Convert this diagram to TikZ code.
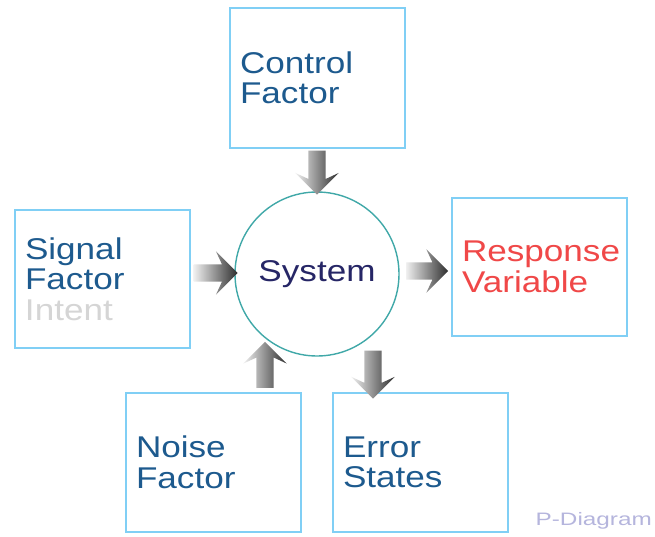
\documentclass[tikz,border=0pt]{standalone}
\usepackage{fontspec}
\setmainfont{Liberation Sans}
\newfontfamily\pfont[FakeStretch=1.17]{Liberation Sans}
\newfontfamily\tagfont[FakeStretch=1.35]{Liberation Sans}
\usetikzlibrary{calc}
\usetikzlibrary{shapes.arrows}

\definecolor{boxblue}{HTML}{80CFF5}
\definecolor{txtblue}{HTML}{1D5A8E}
\definecolor{sysnavy}{HTML}{262666}
\definecolor{respred}{HTML}{F04848}
\definecolor{intgray}{HTML}{D5D5D5}
\definecolor{tagpurple}{HTML}{B5B5DD}
\definecolor{ringteal}{HTML}{40A8A8}

\begin{document}
\begin{tikzpicture}[x=1pt, y=1pt,
  factor/.style={draw=boxblue, line width=1.6pt, rectangle, minimum width=175pt, minimum height=139pt,
    text width=155pt, inner xsep=10pt, align=left, text=txtblue, font=\pfont\fontsize{30}{30.5}\selectfont},
  parrow/.style={single arrow, draw=none, inner sep=0pt, minimum height=44pt,
    single arrow head extend=13pt, single arrow head indent=6pt, left color=black!6, right color=black!82}]
\useasboundingbox[fill=white] (0,0) rectangle (655,536);

\node[factor, minimum height=140pt] (ctrl) at (317.5,458) {Control\\Factor};
\node[factor, minimum height=138pt] (sig) at (102.5,257) {Signal\\Factor\\\textcolor{intgray}{Intent}};
\node[factor, minimum height=138pt, text=respred] (resp) at (539.5,269) {Response\\Variable};
\node[factor] (noise) at (213.5,73.5) {Noise\\Factor};
\node[factor] (err) at (420.5,73.5) {Error\\States};

\node[circle, draw=ringteal, line width=1.4pt, minimum size=164pt, text=sysnavy,
  font=\pfont\fontsize{30}{30}\selectfont] (sys) at (317,262) {System};

% block arrows into and out of the system
\node[parrow, rotate=-90] (a1) at ($(sys.north)+(0,23)$) {\rule{0pt}{17pt}};
\node[parrow] (a2) at ($(sys.west)+(-23,1)$) {\rule{0pt}{17pt}};
\node[parrow, minimum height=42pt] (a3) at ($(sys.east)+(23,3)$) {\rule{0pt}{17pt}};
\node[parrow, rotate=90, minimum height=46pt] (a4) at ($(noise.north)+(51.5,23)$) {\rule{0pt}{17pt}};
\node[parrow, rotate=-90, minimum height=48pt] (a5) at ($(err.north)+(-47.5,22)$) {\rule{0pt}{17pt}};

\node[anchor=south east, text=tagpurple, font=\tagfont\fontsize{18}{18}\selectfont, inner sep=0pt] (tag) at (652,7) {P-Diagram};
\end{tikzpicture}
\end{document}
